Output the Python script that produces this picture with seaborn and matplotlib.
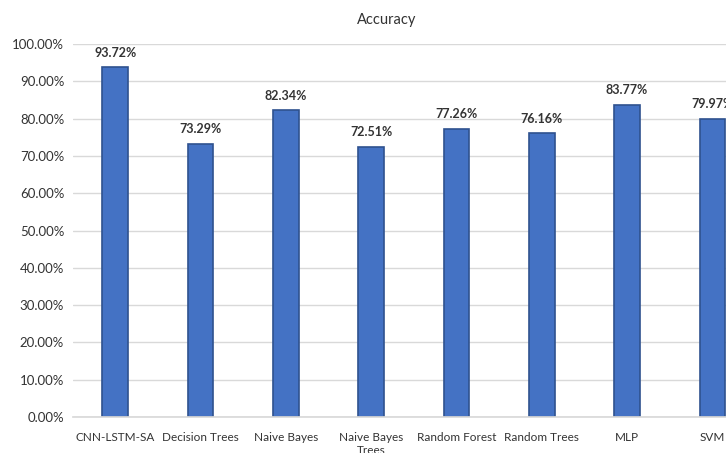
import seaborn as sns
import matplotlib.pyplot as plt
import pandas as pd

# Model accuracies
models = ["CNN-LSTM-SA", "Decision Trees", "Naive Bayes", "Naive Bayes\nTrees",
          "Random Forest", "Random Trees", "MLP", "SVM"]
accuracy = [93.72, 73.29, 82.34, 72.51, 77.26, 76.16, 83.77, 79.97]
y_ticks = [0, 10, 20, 30, 40, 50, 60, 70, 80, 90, 100]

df = pd.DataFrame({"model": models, "accuracy": accuracy})

sns.set_theme(style="white")
plt.rcParams["font.family"] = ["Lato", "DejaVu Sans"]

fig = plt.figure(figsize=(7.26, 4.53), dpi=100)
# axes run past the right edge, as in the cropped original
ax = fig.add_axes([72.5 / 726, 36 / 453, 682.5 / 726, 373 / 453])

sns.barplot(data=df, x="model", y="accuracy", ax=ax, width=0.3,
            color="#4472C4", edgecolor="#2F528F", linewidth=1.2, saturation=1)

ax.set_ylim(0, 100)
ax.set_yticks(y_ticks)
ax.set_yticklabels([f"{t:.2f}%" for t in y_ticks], fontsize=9.5, color="#333333")
ax.tick_params(axis="x", labelsize=8.5, colors="#333333", length=0, pad=11)
ax.tick_params(axis="y", length=0, pad=6)
ax.yaxis.grid(True, color="#D9D9D9", linewidth=1)
ax.set_axisbelow(True)
for s in ["top", "right", "left"]:
    ax.spines[s].set_visible(False)
ax.spines["bottom"].set_color("#D9D9D9")
ax.set_xlabel("")
ax.set_ylabel("")

for i, v in enumerate(accuracy):
    ax.annotate(f"{v:.2f}%", (i, v), xytext=(0, 6), textcoords="offset points",
                ha="center", va="bottom", fontsize=9, fontweight="bold",
                color="#333333")

fig.text(387 / 726, 1 - 20 / 453, "Accuracy", ha="center", va="center",
         fontsize=10.5, color="#333333")

fig.savefig("out.png", dpi=100)
